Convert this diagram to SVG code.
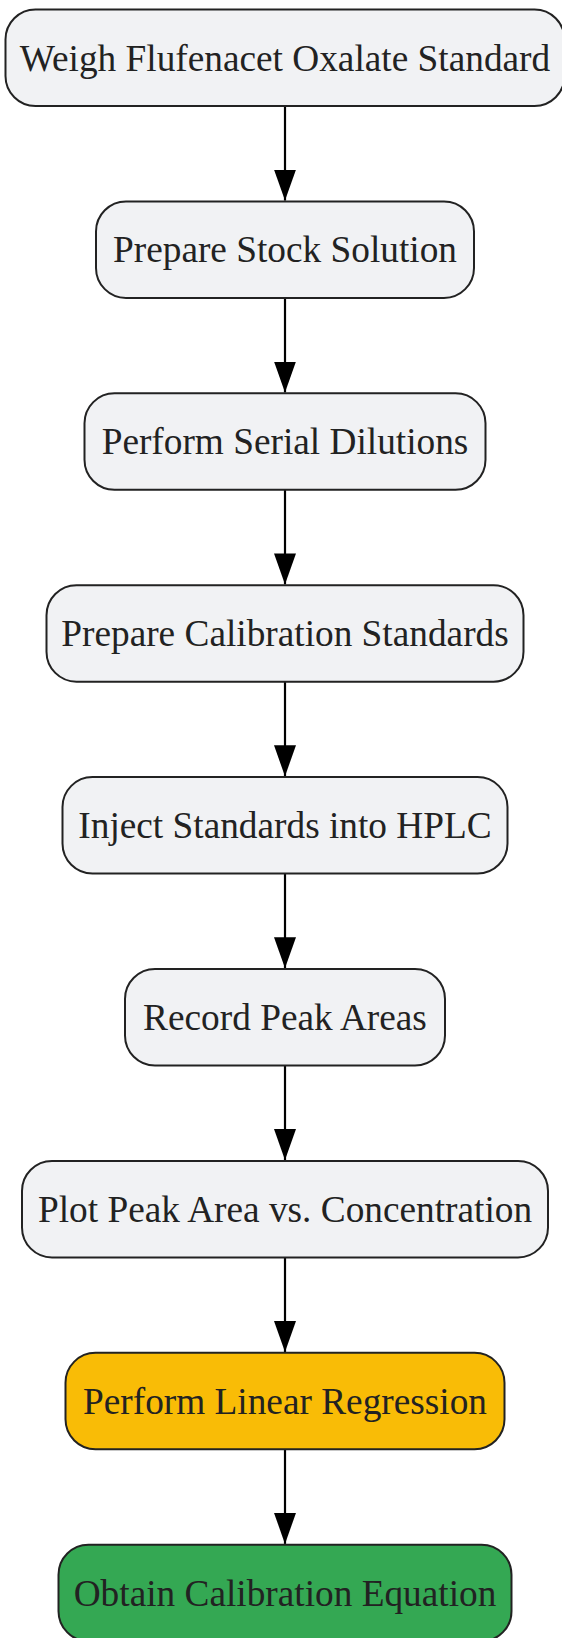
<svg xmlns="http://www.w3.org/2000/svg" width="562" height="1638" viewBox="0 0 562 1638">
<defs>
<style>
.n rect{fill:#f1f2f4;stroke:#222222;stroke-width:2}
.n text{font-family:"Liberation Serif","Times New Roman",serif;font-size:37.3px;fill:#222222;text-anchor:middle}
#n8 rect{fill:#f9bc06}
#n9 rect{fill:#34a853}
.e line{stroke:#000;stroke-width:2.2}
</style>
<marker id="ah" viewBox="0 0 31 22" markerWidth="31" markerHeight="22" refX="31" refY="11" orient="auto" markerUnits="userSpaceOnUse">
<path d="M0,0 L31,11 L0,22 Z" fill="#000"/>
</marker>
</defs>
<rect width="562" height="1638" fill="#ffffff"/>
<g id="connectors" class="e">
<line x1="285" y1="106" x2="285" y2="200.6" marker-end="url(#ah)"/>
<line x1="285" y1="297.9" x2="285" y2="392.5" marker-end="url(#ah)"/>
<line x1="285" y1="489.8" x2="285" y2="584.4" marker-end="url(#ah)"/>
<line x1="285" y1="681.7" x2="285" y2="776.3" marker-end="url(#ah)"/>
<line x1="285" y1="873.6" x2="285" y2="968.2" marker-end="url(#ah)"/>
<line x1="285" y1="1065.5" x2="285" y2="1160.1" marker-end="url(#ah)"/>
<line x1="285" y1="1257.4" x2="285" y2="1352" marker-end="url(#ah)"/>
<line x1="285" y1="1449.3" x2="285" y2="1543.9" marker-end="url(#ah)"/>
</g>
<g id="n1" class="n"><rect x="5.5" y="9.5" width="559" height="96.5" rx="30"/><text x="285" y="70.5">Weigh Flufenacet Oxalate Standard</text></g>
<g id="n2" class="n"><rect x="96" y="201.4" width="378" height="96.5" rx="30"/><text x="285" y="262.4">Prepare Stock Solution</text></g>
<g id="n3" class="n"><rect x="84.5" y="393.3" width="401" height="96.5" rx="30"/><text x="285" y="454.3">Perform Serial Dilutions</text></g>
<g id="n4" class="n"><rect x="46.5" y="585.2" width="477" height="96.5" rx="30"/><text x="285" y="646.2">Prepare Calibration Standards</text></g>
<g id="n5" class="n"><rect x="62.5" y="777.1" width="445" height="96.5" rx="30"/><text x="285" y="838.1">Inject Standards into HPLC</text></g>
<g id="n6" class="n"><rect x="125" y="969" width="320" height="96.5" rx="30"/><text x="285" y="1030">Record Peak Areas</text></g>
<g id="n7" class="n"><rect x="22" y="1160.9" width="526" height="96.5" rx="30"/><text x="285" y="1221.9">Plot Peak Area vs. Concentration</text></g>
<g id="n8" class="n"><rect x="65.5" y="1352.8" width="439" height="96.5" rx="30"/><text x="285" y="1413.8">Perform Linear Regression</text></g>
<g id="n9" class="n"><rect x="58.5" y="1544.7" width="453" height="96.5" rx="30"/><text x="285" y="1605.7">Obtain Calibration Equation</text></g>
</svg>
